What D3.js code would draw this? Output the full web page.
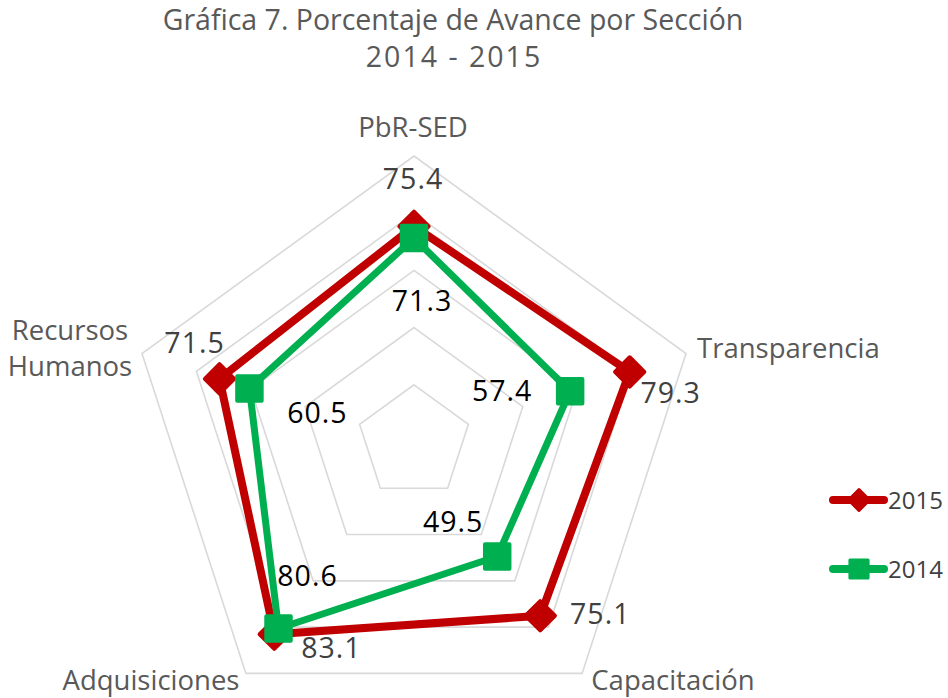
<!DOCTYPE html>
<html>
<head>
<meta charset="utf-8">
<script src="https://cdn.jsdelivr.net/npm/d3@7"></script>
<style>
  body { margin: 0; background: #fff; }
  text { font-family: "Open Sans", sans-serif; }
</style>
</head>
<body>
<svg id="chart" width="948" height="698"></svg>
<script>
// chart data
const categories = ['PbR-SED', 'Transparencia', 'Capacitación', 'Adquisiciones', 'Recursos Humanos'];
const values2015 = [75.4, 79.3, 75.1, 83.1, 71.5];
const values2014 = [71.3, 57.4, 49.5, 80.6, 60.5];
const gridTicks = [20, 40, 60, 80, 100];
const seriesNames = ['2015', '2014'];

// label placement (offset from each point, in px)
const labelOffset2015 = [[-1, -47], [41, 21], [60, -2], [57, 14], [-25, -36]];
const labelOffset2014 = [[8, 63], [-68, 0], [-44, -35], [29, -52], [68, 24]];

const svg = d3.select('#chart');
const cx = 414;
const cy = 442;
const outerRadius = 286;

const red = '#C00000';
const green = '#00B050';

const r = d3.scaleLinear().domain([0, 100]).range([0, outerRadius]);
const angle = d3.scaleLinear().domain([0, categories.length]).range([0, 2 * Math.PI]);

const g = svg.append('g').attr('transform', `translate(${cx},${cy})`);

const pos = (i, v) => {
  const a = angle(i);
  return [r(v) * Math.sin(a), -r(v) * Math.cos(a)];
};

// grid rings
const ring = d3.lineRadial()
  .angle((d, i) => angle(i))
  .radius((d) => r(d))
  .curve(d3.curveLinearClosed);

g.selectAll('.ring')
  .data(gridTicks)
  .enter()
  .append('path')
  .attr('d', (t) => ring(categories.map(() => t)))
  .attr('fill', 'none')
  .attr('stroke', '#D9D9D9')
  .attr('stroke-width', 1.6);

// title
svg.append('text')
  .attr('x', 453).attr('y', 30)
  .attr('text-anchor', 'middle')
  .attr('font-size', 28.5)
  .attr('fill', '#595959')
  .text('Gráfica 7. Porcentaje de Avance por Sección');
svg.append('text')
  .attr('x', 454).attr('y', 67)
  .attr('text-anchor', 'middle')
  .attr('font-size', 28.5)
  .attr('letter-spacing', 2)
  .attr('fill', '#595959')
  .text('2014 - 2015');

// category labels
const catPos = [
  { x: 413, y: 137, anchor: 'middle', lines: ['PbR-SED'] },
  { x: 697, y: 358, anchor: 'start', lines: ['Transparencia'] },
  { x: 673, y: 690, anchor: 'middle', lines: ['Capacitación'] },
  { x: 151, y: 690, anchor: 'middle', lines: ['Adquisiciones'] },
  { x: 70, y: 340, anchor: 'middle', lines: ['Recursos', 'Humanos'] },
];
catPos.forEach((c) => {
  const t = svg.append('text')
    .attr('x', c.x).attr('y', c.y)
    .attr('text-anchor', c.anchor)
    .attr('font-size', 27.5)
    .attr('fill', '#595959');
  c.lines.forEach((l, k) => {
    t.append('tspan').attr('x', c.x).attr('dy', k === 0 ? 0 : 36).text(l);
  });
});

const line = d3.lineRadial()
  .angle((d, i) => angle(i))
  .radius((d) => r(d))
  .curve(d3.curveLinearClosed);

const diamond = d3.symbol().type(d3.symbolSquare).size(430);
const square = d3.symbol().type(d3.symbolSquare).size(600);

function drawSeries(values, color, width, marker, rot, offsets, labelColor) {
  g.append('path')
    .attr('d', line(values))
    .attr('fill', 'none')
    .attr('stroke', color)
    .attr('stroke-width', width)
    .attr('stroke-linejoin', 'round');

  g.selectAll(null)
    .data(values)
    .enter()
    .append('path')
    .attr('d', marker)
    .attr('transform', (d, i) => `translate(${pos(i, d)}) rotate(${rot})`)
    .attr('fill', color)
    .attr('stroke', color)
    .attr('stroke-width', 4)
    .attr('stroke-linejoin', 'round');

  g.selectAll(null)
    .data(values)
    .enter()
    .append('text')
    .attr('x', (d, i) => pos(i, d)[0] + offsets[i][0])
    .attr('y', (d, i) => pos(i, d)[1] + offsets[i][1] + 10)
    .attr('text-anchor', 'middle')
    .attr('font-size', 28.5)
    .attr('letter-spacing', 1)
    .attr('fill', labelColor)
    .text((d) => d.toFixed(1));
}

drawSeries(values2015, red, 8, diamond, 45, labelOffset2015, '#404040');
drawSeries(values2014, green, 7, square, 0, labelOffset2014, '#000000');

// legend
const legend = svg.append('g');
[[seriesNames[0], red, diamond, 45, 500], [seriesNames[1], green, square, 0, 569]].forEach(([name, color, marker, rot, y]) => {
  legend.append('line')
    .attr('x1', 833).attr('x2', 884)
    .attr('y1', y).attr('y2', y)
    .attr('stroke', color)
    .attr('stroke-width', 8)
    .attr('stroke-linecap', 'round');
  legend.append('path')
    .attr('d', marker.size(rot ? 220 : 330)())
    .attr('transform', `translate(859,${y}) rotate(${rot})`)
    .attr('fill', color)
    .attr('stroke', color)
    .attr('stroke-width', 3)
    .attr('stroke-linejoin', 'round');
  legend.append('text')
    .attr('x', 888).attr('y', y + 8.5)
    .attr('font-size', 24)
    .attr('fill', '#404040')
    .text(name);
});
</script>
</body>
</html>
